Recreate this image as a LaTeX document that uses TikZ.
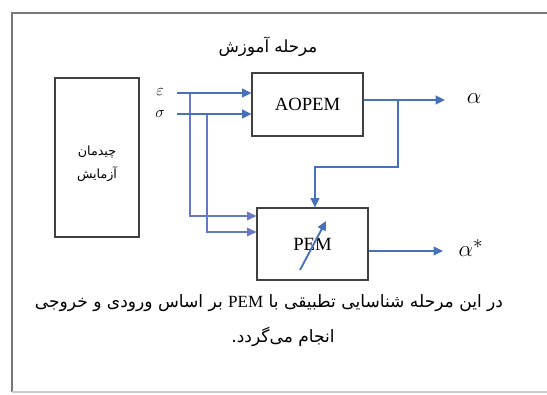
\documentclass[tikz,border=0pt]{standalone}
\usepackage{fontspec}
\setmainfont{Liberation Serif}
\newfontfamily\arabicfont[Script=Arabic]{DejaVu Sans}
\TeXXeTstate=1
\usetikzlibrary{arrows.meta}
\definecolor{flowblue}{RGB}{72,114,184}
\definecolor{branchblue}{RGB}{104,120,200}
\definecolor{framegray}{RGB}{120,120,120}
\begin{document}
\begin{tikzpicture}[x=0.75pt,y=-0.75pt,
  blockbox/.style={draw=black!75, line width=0.9pt, fill=white, inner sep=0pt},
  flow/.style={draw=flowblue, line width=1.4pt, -{Triangle[length=7pt,width=6.5pt]}},
  branch/.style={draw=branchblue, line width=1.1pt, -{Triangle[length=7pt,width=6.5pt]}},
  fa/.style={font=\arabicfont\fontsize{12.8}{15}\selectfont},
  fatitle/.style={font=\arabicfont\fontsize{12.5}{15}\selectfont},
  fasmall/.style={font=\arabicfont\fontsize{9.5}{11}\selectfont},
  lbl/.style={font=\fontsize{14}{16}\selectfont},
  outlbl/.style={font=\fontsize{19}{22}\selectfont}]
\useasboundingbox (0,0) rectangle (547,394);
\fill[white] (0,0) rectangle (547,394);
% frame
\draw[framegray, line width=1.3pt] (547,13) -- (12,13) -- (12,392);
\draw[black!20, line width=0.8pt] (12,392) -- (547,392);
% title
\node[fatitle] (title) at (268,47) {\beginR مرحله آموزش\endR};
% blocks
\node[blockbox, minimum width=63pt, minimum height=119.25pt] (setup) at (97,157.5) {};
\node[fasmall, align=center] (setuptxt) at (97,164) {\beginR چیدمان\endR\\[5pt]\beginR آزمایش\endR};
\node[blockbox, minimum width=83.25pt, minimum height=47.25pt, lbl] (aopem) at (307.5,104.5) {AOPEM};
\node[blockbox, minimum width=83.25pt, minimum height=54pt, lbl] (pem) at (312.5,244) {PEM};
% inputs
\node[font=\large] (eps) at (160,92) {$\varepsilon$};
\node[font=\large] (sig) at (160,114) {$\sigma$};
\coordinate (e) at (177,93);
\coordinate (s) at (177,114);
\coordinate (eb) at (190,93);
\coordinate (sb) at (207,114);
\draw[branch] (eb) |- ([yshift=21pt]pem.west);
\draw[branch] (sb) |- ([yshift=9pt]pem.west);
\draw[flow] (e) -- (e -| aopem.west);
\draw[flow] (s) -- (s -| aopem.west);
% outputs
\coordinate (aout) at ([yshift=3.4pt]aopem.east);
\coordinate (aend) at (445,100);
\node[outlbl] (alpha) at (474,99) {$\alpha$};
\draw[flow] (aout) -- (aend);
\coordinate (fb1) at (398,100);
\coordinate (fb2) at (398,167);
\coordinate (fb3) at (315,167);
\draw[flow] (fb1) -- (fb2) -- (fb3) -- (fb3 |- pem.north);
\coordinate (pout) at ([yshift=-5.25pt]pem.east);
\coordinate (pend) at (443,251);
\node[outlbl] (alphastar) at (471,248) {$\alpha^{*}$};
\draw[flow] (pout) -- (pend);
% adjustable arrow
\coordinate (adj1) at (300,270);
\coordinate (adj2) at (326,221);
\draw[flow] (adj1) -- (adj2);
% caption
\node[fa] (cap1) at (269,303) {\beginR در این مرحله شناسایی تطبیقی با \beginL{\rmfamily PEM}\endL{} بر اساس ورودی و خروجی\endR};
\node[fa] (cap2) at (283,337) {\beginR انجام می‌گردد.\endR};
\end{tikzpicture}
\end{document}
